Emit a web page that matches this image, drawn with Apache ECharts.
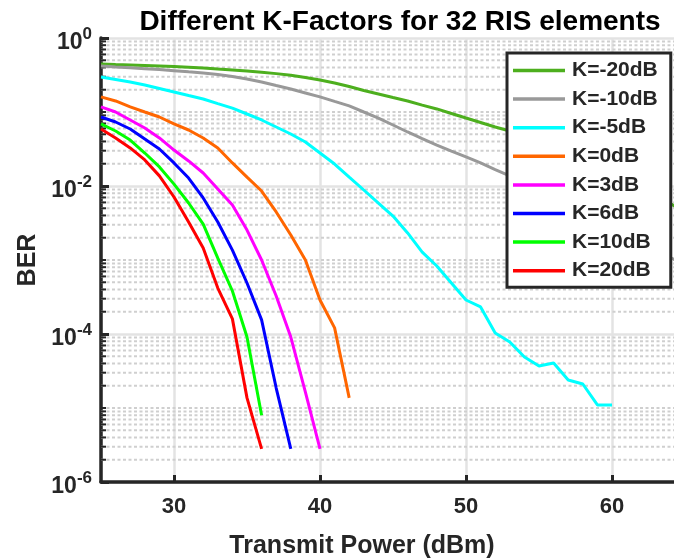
<!DOCTYPE html>
<html>
<head>
<meta charset="utf-8">
<script src="https://cdn.jsdelivr.net/npm/echarts@6/dist/echarts.min.js"></script>
<style>
  html, body { margin: 0; padding: 0; background: #fff; overflow: hidden; }
  #chart { width: 674px; height: 560px; }
</style>
</head>
<body>
<div id="chart"></div>
<script>
// Transmit power sweep (dBm)
const powerDbm = [25,26,27,28,29,30,31,32,33,34,35,36,37,38,39,40,41,42,43,44,45,46,47,48,49,50,51,52,53,54,55,56,57,58,59,60,61,62,63,64,65];

// BER per Rician K-factor
const berKm20 = [0.445,0.438,0.432,0.425,0.418,0.411,0.402,0.393,0.381,0.370,0.358,0.345,0.330,0.314,0.292,0.271,0.246,0.221,0.195,0.175,0.157,0.141,0.124,0.110,0.0955,0.0829,0.0721,0.0627,0.0554,0.0481,0.0418,0.0353,0.0293,0.0239,0.0195,0.0157,0.0124,0.00969,0.00755,0.00580,0.00438];
const berKm10 = [0.418,0.406,0.396,0.385,0.374,0.362,0.349,0.337,0.321,0.302,0.279,0.254,0.228,0.205,0.181,0.160,0.139,0.121,0.100,0.0829,0.0667,0.0537,0.0438,0.0358,0.0297,0.0247,0.0205,0.0167,0.0137,0.0110,0.00883,0.0070,0.00553,0.00438,0.00347,0.00275,0.00218,0.00172,0.00136,0.00108,0.000856];
const berKm5 = [0.297,0.275,0.254,0.232,0.208,0.186,0.167,0.150,0.130,0.113,0.094,0.078,0.0627,0.0504,0.0393,0.0279,0.0198,0.0132,0.00883,0.00589,0.00393,0.00232,0.00128,0.00083,0.000489,0.000288,0.000232,0.000103,0.000078,0.0000489,0.000037,0.0000406,0.0000239,0.0000211,0.000011,0.000011];
const berK0 = [0.160,0.141,0.117,0.100,0.0856,0.0689,0.0571,0.0446,0.0327,0.0205,0.0132,0.00855,0.00446,0.00218,0.001,0.000288,0.000121,0.0000137];
const berK3 = [0.117,0.100,0.078,0.0608,0.0446,0.0306,0.0218,0.0150,0.0091,0.00553,0.00254,0.001,0.000326,0.000091,0.0000164,0.0000028];
const berK6 = [0.0856,0.0733,0.0589,0.0432,0.0316,0.0205,0.0128,0.00689,0.00326,0.00136,0.000489,0.000155,0.0000186,0.0000028];
const berK10 = [0.0689,0.0554,0.0418,0.0279,0.0181,0.0106,0.00589,0.00306,0.00106,0.000381,0.000091,0.000008];
const berK20 = [0.0589,0.0446,0.0327,0.0225,0.0137,0.0071,0.00326,0.00145,0.000418,0.00016,0.0000137,0.0000028];

const seriesNames = ['K=-20dB','K=-10dB','K=-5dB','K=0dB','K=3dB','K=6dB','K=10dB','K=20dB'];
const seriesValues = [berKm20, berKm10, berKm5, berK0, berK3, berK6, berK10, berK20];
const seriesColors = ['#4DAF1E','#999999','#00FFFF','#FF6600','#FF00FF','#0000FF','#00FF00','#FF0000'];

// Axis ranges and tick labels
const xRange = [25, 65];
const xTickLabels = [30, 40, 50, 60];
const yDecades = [-6, -5, -4, -3, -2, -1];
const yMantissas = [1, 2, 3, 4, 5, 6, 7, 8, 9];
const yLabelledExponents = [0, -2, -4, -6];

const FONT = '"Liberation Sans", Arial, Helvetica, sans-serif';
const AXIS_COLOR = '#262626';

// minor log gridlines: every mantissa in each decade, except labelled decades
const minorGrid = [];
yDecades.forEach(e => {
  yMantissas.forEach(m => {
    if (m === 1 && yLabelledExponents.includes(e)) return;
    minorGrid.push([xRange[0], m * Math.pow(10, e)]);
  });
});

const lineSeries = seriesNames.map((name, i) => ({
  name: name,
  type: 'line',
  data: seriesValues[i].map((v, j) => [powerDbm[j], v]),
  showSymbol: false,
  symbol: 'none',
  lineStyle: { width: 3, color: seriesColors[i] },
  itemStyle: { color: seriesColors[i] },
  z: 3,
  clip: true
}));

const gridSeries = {
  type: 'custom',
  name: 'minor-grid',
  data: minorGrid,
  silent: true,
  z: 1,
  clip: true,
  renderItem: function (params, api) {
    const v = api.value(1);
    const p0 = api.coord([xRange[0], v]);
    const p1 = api.coord([xRange[1], v]);
    return {
      type: 'group',
      children: [
        { type: 'line', shape: { x1: p0[0], y1: p0[1], x2: p1[0], y2: p1[1] },
          style: { stroke: '#cfcfcf', lineWidth: 2, lineDash: [3, 2.5] } },
        { type: 'line', shape: { x1: p0[0], y1: p0[1], x2: p0[0] + 5, y2: p0[1] },
          style: { stroke: AXIS_COLOR, lineWidth: 2 } }
      ]
    };
  }
};

const chart = echarts.init(document.getElementById('chart'), null, { renderer: 'canvas', width: 674, height: 560 });
chart.setOption({
  animation: false,
  backgroundColor: '#ffffff',
  title: {
    text: 'Different K-Factors for 32 RIS elements',
    left: 395,
    top: 3,
    textAlign: 'center',
    textStyle: { fontFamily: FONT, fontSize: 28, fontWeight: 'bold', color: '#000000' }
  },
  grid: { left: 101, top: 38, width: 584, height: 444, outerBoundsMode: 'none', containLabel: false },
  legend: {
    data: seriesNames,
    orient: 'vertical',
    left: 507,
    top: 53,
    icon: 'rect',
    itemWidth: 52,
    itemHeight: 3.5,
    itemGap: 7.6,
    padding: [7, 13, 6, 6],
    backgroundColor: '#ffffff',
    borderColor: AXIS_COLOR,
    borderWidth: 3,
    textStyle: { fontFamily: FONT, fontSize: 21, fontWeight: 'bold', color: AXIS_COLOR, lineHeight: 21, padding: [0, 0, 0, 2] }
  },
  xAxis: {
    type: 'value',
    min: xRange[0],
    max: xRange[1],
    name: 'Transmit Power (dBm)',
    nameLocation: 'middle',
    nameGap: 52,
    nameTextStyle: { fontFamily: FONT, fontSize: 25, fontWeight: 'bold', color: AXIS_COLOR, padding: [0, 62, 0, 0] },
    axisLine: { lineStyle: { color: AXIS_COLOR, width: 3.5 } },
    axisTick: { inside: true, length: 7, lineStyle: { color: AXIS_COLOR, width: 3 } },
    axisLabel: {
      fontFamily: FONT, fontSize: 22, fontWeight: 'bold', color: AXIS_COLOR, margin: 14,
      showMinLabel: false, showMaxLabel: false,
      formatter: v => (xTickLabels.includes(v) ? String(v) : '')
    },
    splitLine: { show: true, lineStyle: { color: '#e3e3e3', width: 2.5 } }
  },
  yAxis: {
    type: 'log',
    logBase: 10,
    min: 1e-6,
    max: 1,
    interval: 2,
    name: 'BER',
    nameLocation: 'middle',
    nameGap: 60,
    nameRotate: 90,
    nameTextStyle: { fontFamily: FONT, fontSize: 25, fontWeight: 'bold', color: AXIS_COLOR },
    axisLine: { show: true, lineStyle: { color: AXIS_COLOR, width: 3.5 } },
    axisTick: { inside: true, length: 8, lineStyle: { color: AXIS_COLOR, width: 3 } },
    axisLabel: {
      margin: 9,
      formatter: function (v) {
        const e = Math.round(Math.log10(v));
        return '{b|10}{s|' + e + '}';
      },
      rich: {
        b: { fontFamily: FONT, fontSize: 23, fontWeight: 'bold', color: AXIS_COLOR, padding: [10, 0, 0, 0] },
        s: { fontFamily: FONT, fontSize: 17, fontWeight: 'bold', color: AXIS_COLOR, padding: [0, 0, 8, 0] }
      }
    },
    splitLine: { show: true, lineStyle: { color: '#e3e3e3', width: 2.5 } }
  },
  series: [gridSeries].concat(lineSeries)
});
</script>
</body>
</html>
